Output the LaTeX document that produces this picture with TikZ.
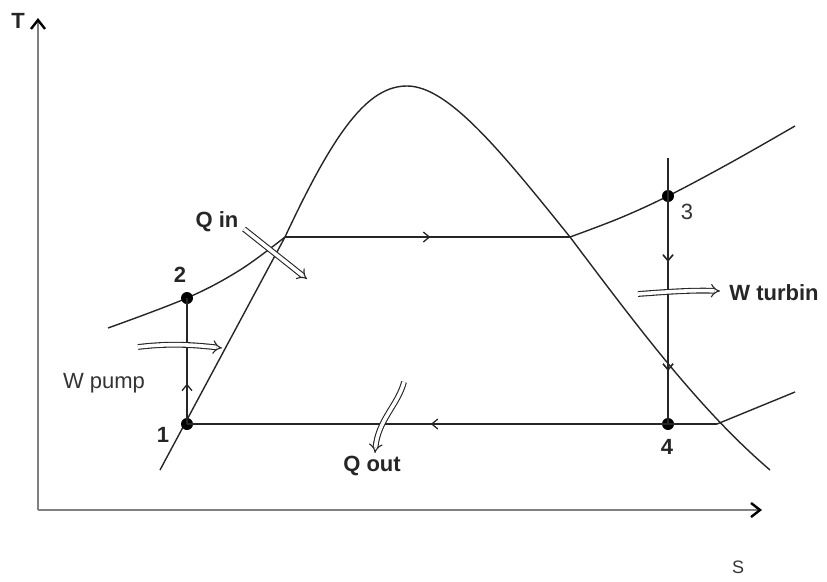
\documentclass[tikz,border=0pt]{standalone}
\usepackage{fontspec}
\setmainfont{Liberation Sans}
\usetikzlibrary{arrows.meta,decorations.markings,calc}
\begin{document}
\begin{tikzpicture}[x=1pt,y=-1pt,
  curve/.style={line width=1.4pt,black!85},
  axis/.style={line width=2.4pt,black!50,-{Straight Barb[length=9pt,width=14pt,line width=2.4pt,black]}},
  dot/.style={circle,fill=black,inner sep=0pt,minimum size=12pt},
  lbl/.style={font=\fontsize{22}{26}\selectfont\bfseries,text=black!85},
  lblr/.style={font=\fontsize{22}{26}\selectfont,text=black!80},
  hollow/.style={line width=1.1pt,black!85,double=white,double distance=3.6pt,-{Implies[length=8pt]}},
  midarrow/.style={postaction={decorate},decoration={markings,
    mark=at position #1 with {\arrow{Straight Barb[length=6pt,width=10pt,line width=1.3pt]}}}},
]
\useasboundingbox (0,0) rectangle (827,581);
% axes
\coordinate (O) at (38,510);
\coordinate (Ty) at (38,18);
\coordinate (Sx) at (762,510);
\draw[axis] (O) -- (Ty);
\draw[axis] (O) -- (Sx);
\node[lbl] (T) at (18,21) {T};
\node[lblr,font=\fontsize{18}{22}\selectfont] (S) at (738,567) {S};
% saturation dome
\draw[curve] (160,470) -- (285,237) .. controls (335,130) and (368,86) .. (407,86)
  .. controls (448,86) and (500,150) .. (570,237)
  .. controls (640,330) and (700,410) .. (770,470);
% isobars
\draw[curve] plot[smooth,tension=0.6] coordinates {(108,328) (187,298) (240,270) (285,237)};
\draw[curve] plot[smooth,tension=0.6] coordinates {(570,237) (620,218) (668,196) (730,163) (795,126)};
\draw[curve] (717,424) -- (795,392);
% points
\node[dot] (p1) at (187,424) {};
\node[dot] (p2) at (187,298) {};
\node[dot] (p3) at (668,196) {};
\node[dot] (p4) at (668,424) {};
\coordinate (a) at (285,237);
\coordinate (b) at (570,237);
\coordinate (top) at (668,158);
\coordinate (c) at (717,424);
% cycle
\draw[curve,midarrow=0.32] (p1.center) -- (p2.center);
\draw[curve,midarrow=0.51] (a) -- (b);
\draw[curve,midarrow=0.39,midarrow=0.80] (top) -- (p4.center);
\draw[curve,midarrow=0.54] (c) -- (p1.center);
% labels
\node[lbl] (n1) at (163,435) {1};
\node[lbl] (n2) at (180,275) {2};
\node[lblr] (n3) at (687,212) {3};
\node[lbl] (n4) at (667,447) {4};
\node[lbl] (qin) at (217,222) {Q in};
\node[lblr] (wp) at (104,383) {W pump};
\node[lbl] (wt) at (774,293) {W turbin};
\node[lbl] (qout) at (372,466) {Q out};
% hollow arrows
\coordinate (qa) at (244,229);
\coordinate (qb) at (307,279);
\draw[hollow] (qa) -- (qb);
\coordinate (wpa) at (138,347);
\coordinate (wpb) at (222,348);
\draw[hollow] (wpa) .. controls (170,343) and (195,345) .. (wpb);
\coordinate (wta) at (638,294);
\coordinate (wtb) at (720,291);
\draw[hollow] (wta) .. controls (665,292) and (690,290) .. (wtb);
\coordinate (qoa) at (404,382);
\coordinate (qob) at (375,453);
\draw[hollow] (qoa) .. controls (398,405) and (378,420) .. (qob);
\end{tikzpicture}
\end{document}
